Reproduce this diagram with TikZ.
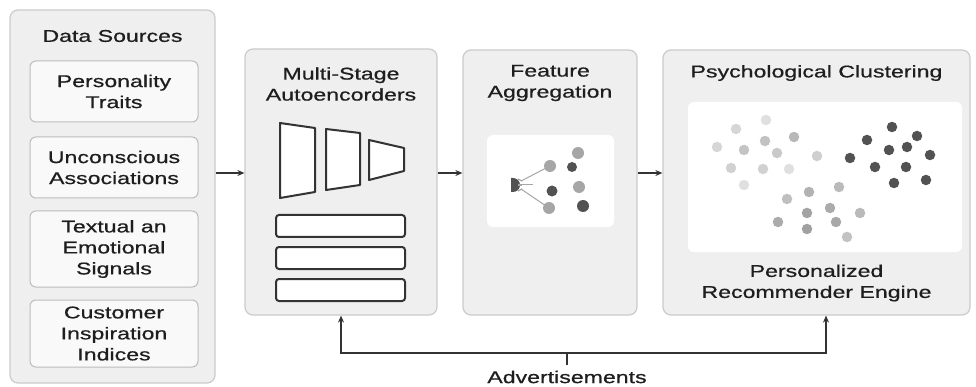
\documentclass[tikz,border=0pt]{standalone}
\usepackage{fontspec}
\setmainfont{Liberation Sans}[FakeStretch=1.36, FakeBold=0.7]
\usetikzlibrary{arrows.meta}
\definecolor{txt}{HTML}{1E1E1E}
\definecolor{panelfill}{HTML}{EFEFEF}
\definecolor{panelline}{HTML}{CBCBCB}
\definecolor{itemfill}{HTML}{F9F9F9}
\definecolor{itemline}{HTML}{BDBDBD}
\definecolor{ink}{HTML}{333333}
\definecolor{dotM}{HTML}{A6A6A6}
\definecolor{dotD}{HTML}{525252}
\tikzset{
  panel/.style={draw=panelline, fill=panelfill, line width=1.2pt, rounded corners=8pt, inner sep=0pt},
  item/.style={draw=itemline, fill=itemfill, line width=1pt, rounded corners=6pt, inner sep=0pt, minimum width=168pt, align=center, text=txt},
  lbl/.style={text=txt, align=center, inner sep=0pt, font=\fontsize{17}{21}\selectfont},
  inner/.style={fill=white, rounded corners=6pt, draw=none, inner sep=0pt},
  arr/.style={draw=ink, line width=1.3pt, -{Stealth[length=7pt,width=6pt]}},
  feed/.style={draw=ink, line width=1.3pt, {Stealth[length=7pt,width=6pt]}-{Stealth[length=7pt,width=6pt]}},
  trap/.style={draw=ink, fill=white, line width=2pt, line join=round},
  bar/.style={draw=ink, fill=white, line width=2pt, rounded corners=3pt, inner sep=0pt, minimum width=129pt, minimum height=22pt},
  dt/.style={circle, inner sep=0pt, minimum size=10.5pt, draw=none},
  fline/.style={draw=dotM, line width=1pt}
}
\begin{document}
\begin{tikzpicture}[x=1pt,y=-1pt]
\useasboundingbox[fill=white] (0,0) rectangle (976,387);
% panels
\node[panel, minimum width=205pt, minimum height=373pt] (ds) at (112.5,196.5) {};
\node[panel, minimum width=192pt, minimum height=266pt] (ae) at (341,182) {};
\node[panel, minimum width=174pt, minimum height=265pt] (fa) at (550,182.5) {};
\node[panel, minimum width=307pt, minimum height=265pt] (ps) at (816.5,182.5) {};
% titles
\node[lbl] (dsT) at (112.5,36) {Data Sources};
\node[lbl] (aeT) at (341,84) {Multi-Stage\\Autoencorders};
\node[lbl] (faT) at (550,83) {Feature\\Aggregation};
\node[lbl] (psT) at (816.5,73) {Psychological Clustering};
% data source items
\node[item, minimum height=61pt, font=\fontsize{17}{21}\selectfont] (i1) at (114,91.5) {Personality\\Traits};
\node[item, minimum height=61pt, font=\fontsize{17}{21}\selectfont] (i2) at (114,167.5) {Unconscious\\Associations};
\node[item, minimum height=76pt, font=\fontsize{17}{21}\selectfont] (i3) at (114,249) {Textual an\\Emotional\\Signals};
\node[item, minimum height=67pt, font=\fontsize{17}{21}\selectfont] (i4) at (114,333.5) {Customer\\Inspiration\\Indices};
% autoencoder trapezoids
\draw[trap] (280,123) -- (315,128) -- (315,192) -- (280,198) -- cycle;
\draw[trap] (326,129) -- (360,133) -- (360,185) -- (326,190) -- cycle;
\draw[trap] (369,140) -- (404,148) -- (404,171) -- (369,180) -- cycle;
\node[bar] (b1) at (340.5,226) {};
\node[bar] (b2) at (340.5,258) {};
\node[bar] (b3) at (340.5,290) {};
% feature inner panel
\node[inner, minimum width=127pt, minimum height=92pt] (faP) at (550.5,181) {};
\draw[fline] (521,181) -- (550,166);
\draw[fline] (521,189) -- (549,208);
\draw[fline] (522,185) -- (533,185);
\fill[dotD] (511,178) -- (513,178) arc (-90:90:7) -- (511,192) -- cycle;
\draw[dotM, line width=1.2pt] (518,179) -- (522,181);
\draw[dotM, line width=1.2pt] (518,185) -- (522,185);
\draw[dotM, line width=1.2pt] (518,191) -- (522,189);
\node[dt, fill=dotM, minimum size=12pt] (f1) at (550,166) {};
\node[dt, fill=dotM, minimum size=12pt] (f2) at (578,153) {};
\node[dt, fill=dotD, minimum size=10pt] (f3) at (572,167) {};
\node[dt, fill=dotD, minimum size=11pt] (f4) at (552,191) {};
\node[dt, fill=dotM, minimum size=12pt] (f5) at (579,187) {};
\node[dt, fill=dotM, minimum size=12pt] (f6) at (549,208) {};
\node[dt, fill=dotD, minimum size=12pt] (f7) at (583,206) {};
% psych inner panel
\node[inner, minimum width=274pt, minimum height=150pt] (psP) at (825,177) {};
\foreach \x/\y/\c in {766/120/12, 736/129/16, 717/147/16, 744/150/23, 765/141/24, 794/137/28, 777/153/21, 817/156/19, 731/168/18, 763/169/18, 789/169/12, 744/185/12}
  \node[dt, fill=black!\c] at (\x,\y) {};
\foreach \x/\y in {892/127, 867/140, 917/136, 907/147, 889/150, 930/155, 850/158, 875/167, 906/167, 894/183, 926/180}
  \node[dt, fill=dotD] at (\x,\y) {};
\foreach \x/\y/\c in {839/187/27, 809/192/30, 787/199/25, 830/208/33, 807/213/36, 860/213/27, 778/222/33, 836/222/34, 807/229/37, 847/237/24}
  \node[dt, fill=black!\c] at (\x,\y) {};
\node[lbl] (psB) at (816.5,283) {Personalized\\Recommender Engine};
% arrows between panels
\coordinate (ay) at (0,173);
\draw[arr] (ds.east |- ay) -- (ae.west |- ay);
\draw[arr] (ae.east |- ay) -- (fa.west |- ay);
\draw[arr] (fa.east |- ay) -- (ps.west |- ay);
% feedback
\coordinate (fbL) at (341,353);
\coordinate (fbR) at (826,353);
\coordinate (tk) at (567,353);
\draw[feed] (ae.south) -- (fbL) -- (fbR) -- (fbR |- ps.south);
\draw[draw=ink, line width=1.3pt] (tk) -- ++(0,12);
\node[lbl] (adv) at (567,377) {Advertisements};
\end{tikzpicture}
\end{document}
